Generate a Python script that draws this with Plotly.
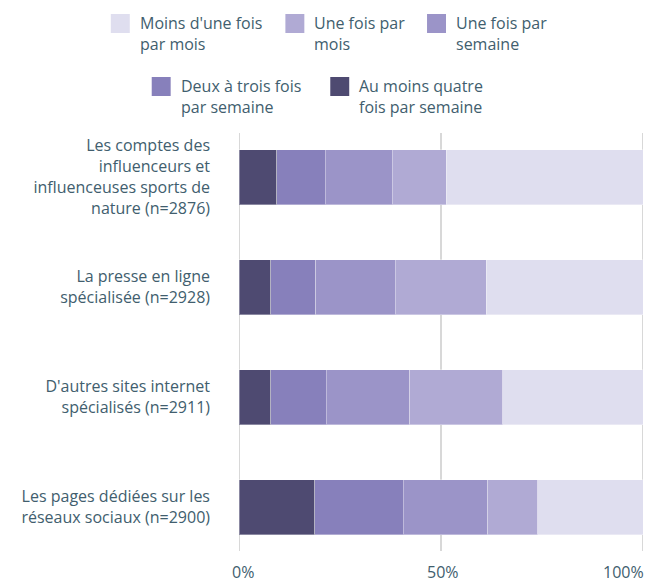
import plotly.graph_objects as go

# Sources consulted, top to bottom
categories = [
    "Les comptes des<br>influenceurs et<br>influenceuses sports de<br>nature (n=2876)",
    "La presse en ligne<br>spécialisée (n=2928)",
    "D'autres sites internet<br>spécialisés (n=2911)",
    "Les pages dédiées sur les<br>réseaux sociaux (n=2900)",
]

# Frequency bands, stacked left to right (shares in %)
series_names = [
    "Au moins quatre<br>fois par semaine",
    "Deux à trois fois<br>par semaine",
    "Une fois par<br>semaine",
    "Une fois par<br>mois",
    "Moins d'une fois<br>par mois",
]
au_moins_quatre = [9.4, 7.8, 7.8, 18.7]
deux_trois = [12.0, 11.2, 13.8, 21.9]
une_semaine = [16.5, 19.7, 20.7, 21.0]
une_mois = [13.4, 22.5, 23.0, 12.4]
moins_mois = [48.7, 38.8, 34.7, 26.0]
series_values = [au_moins_quatre, deux_trois, une_semaine, une_mois, moins_mois]

colors = ["#4e4a71", "#8780bb", "#9b94c8", "#b0aad4", "#dfdeef"]

x_ticks = [0, 50, 100]
x_tick_text = ["0%", "50%", "100%"]

W, H = 650, 582
ML, MR, MT, MB = 238.5, 6.5, 133, 31
PW, PH = W - ML - MR, H - MT - MB
TEXT = "#415e6e"
FONT = "Open Sans"
FS = 16


def px_x(px):
    return (px - ML) / PW


def px_y(py):
    return (H - MB - py) / PH


fig = go.Figure()
for name, vals, col in zip(series_names, series_values, colors):
    fig.add_trace(go.Bar(
        y=categories, x=vals, name=name.replace("<br>", " "), orientation="h",
        marker=dict(color=col, line=dict(color="rgba(255,255,255,0.35)", width=1)),
        showlegend=False,
    ))

# Vertical guide lines at each percent tick, behind the bars
shapes = [
    dict(type="line", xref="x", yref="paper", x0=v, x1=v, y0=0, y1=1,
         line=dict(color="#d8d8d8", width=2), layer="below")
    for v in x_ticks
]

# Legend drawn as swatches and labels, lightest band first
legend_order = [4, 3, 2, 1, 0]
legend_pos = [(110, 14), (285, 14), (427, 14), (151, 77), (330, 77)]
annotations = []
for idx, (lx, ly) in zip(legend_order, legend_pos):
    shapes.append(dict(
        type="rect", xref="paper", yref="paper",
        x0=px_x(lx), x1=px_x(lx + 19), y0=px_y(ly + 19), y1=px_y(ly),
        fillcolor=colors[idx], line=dict(width=0), layer="above",
    ))
    annotations.append(dict(
        text=series_names[idx], xref="paper", yref="paper",
        x=px_x(lx + 27), y=px_y(ly - 4), xanchor="left", yanchor="top",
        align="left", showarrow=False,
        font=dict(family=FONT, size=FS, color=TEXT),
    ))

# Percent labels under the axis
for v, t in zip(x_ticks, x_tick_text):
    anchor = "right" if v == 100 else "center"
    shift = 3 if v == 100 else 4 if v == 0 else 2
    annotations.append(dict(
        text=t, x=v, xref="x", y=px_y(559), yref="paper",
        xanchor=anchor, yanchor="top", xshift=shift, showarrow=False,
        font=dict(family=FONT, size=FS, color=TEXT),
    ))

fig.update_layout(
    width=W, height=H,
    margin=dict(l=ML, r=MR, t=MT, b=MB, autoexpand=False),
    barmode="stack", bargap=0.5,
    paper_bgcolor="white", plot_bgcolor="white",
    font=dict(family=FONT, size=FS, color=TEXT),
    shapes=shapes, annotations=annotations,
    showlegend=False,
)
fig.update_xaxes(
    range=[0, 100], tickvals=x_ticks, showticklabels=False,
    showgrid=False, zeroline=False, showline=False, fixedrange=True,
)
fig.update_yaxes(
    range=[3.4, -0.4], showgrid=False, zeroline=False, showline=False,
    ticks="", ticklabelstandoff=28, tickfont=dict(family=FONT, size=FS, color=TEXT),
)

fig.write_html("out.html")
